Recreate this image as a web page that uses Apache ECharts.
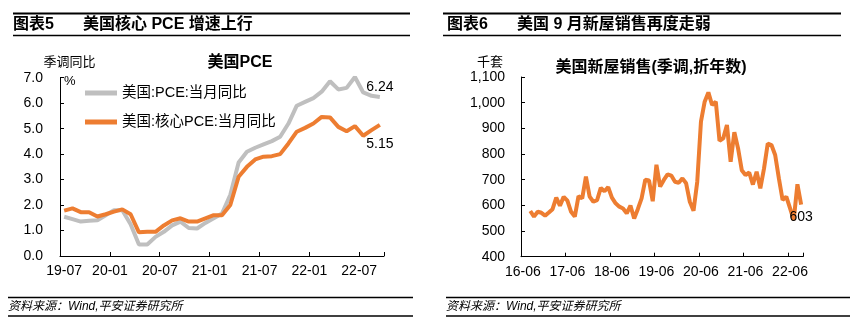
<!DOCTYPE html>
<html><head><meta charset="utf-8">
<script src="https://cdn.jsdelivr.net/npm/echarts@6/dist/echarts.min.js"></script>
<style>html,body{margin:0;padding:0;background:#fff}#c{width:861px;height:327px}</style>
</head><body><div id="c"></div>
<script>
// ---- Left chart: US PCE (YoY, %) ----
const pceMonths = ['19-07','19-08','19-09','19-10','19-11','19-12',
  '20-01','20-02','20-03','20-04','20-05','20-06','20-07','20-08','20-09','20-10','20-11','20-12',
  '21-01','21-02','21-03','21-04','21-05','21-06','21-07','21-08','21-09','21-10','21-11','21-12',
  '22-01','22-02','22-03','22-04','22-05','22-06','22-07','22-08','22-09'];
const pceHeadline = [1.54,1.45,1.35,1.38,1.40,1.60,1.80,1.80,1.25,0.45,0.45,0.75,0.95,1.20,1.35,1.10,1.08,1.30,
  1.48,1.67,2.40,3.67,4.09,4.25,4.38,4.51,4.68,5.20,5.90,6.05,6.20,6.45,6.86,6.54,6.60,7.03,6.42,6.29,6.24];
const pceCore = [1.78,1.87,1.72,1.72,1.55,1.64,1.74,1.83,1.64,0.93,0.95,0.95,1.20,1.40,1.48,1.35,1.35,1.48,
  1.60,1.60,2.00,3.11,3.50,3.79,3.90,3.92,4.00,4.42,4.88,5.03,5.20,5.46,5.44,5.07,4.90,5.10,4.72,4.94,5.15];
const pceNames = ['美国:PCE:当月同比','美国:核心PCE:当月同比'];
const pceYTicks = {min:0, max:7, interval:1};

// ---- Right chart: US new home sales (SAAR, thousand units) ----
const nhsMonths = ['16-06','16-07','16-08','16-09','16-10','16-11','16-12',
  '17-01','17-02','17-03','17-04','17-05','17-06','17-07','17-08','17-09','17-10','17-11','17-12',
  '18-01','18-02','18-03','18-04','18-05','18-06','18-07','18-08','18-09','18-10','18-11','18-12',
  '19-01','19-02','19-03','19-04','19-05','19-06','19-07','19-08','19-09','19-10','19-11','19-12',
  '20-01','20-02','20-03','20-04','20-05','20-06','20-07','20-08','20-09','20-10','20-11','20-12',
  '21-01','21-02','21-03','21-04','21-05','21-06','21-07','21-08','21-09','21-10','21-11','21-12',
  '22-01','22-02','22-03','22-04','22-05','22-06','22-07','22-08','22-09'];
const nhsSales = [null,null,578,556,575,571,560,
  572,585,630,599,633,618,575,556,636,627,712,634,
  614,620,668,655,671,630,608,595,588,569,599,549,
  586,627,700,697,616,758,673,699,721,716,692,688,
  705,686,614,579,692,926,1004,1040,991,1004,851,861,
  913,770,885,822,737,718,728,681,731,666,744,841,
  835,796,705,621,634,589,543,682,603];
const nhsName = '美国新屋销售(季调,折年数)';
const nhsYTicks = {min:400, max:1100, interval:100};

const FONT = "'Liberation Sans','Noto Sans CJK SC',sans-serif";
const GRAY = '#BFBFBF', ORANGE = '#ED7D31';

function withEndLabel(arr, pos, dist, fmt) {
  const last = arr.length - 1;
  return arr.map((v, i) => i === last ? {value: v, label: {show: true, position: pos, distance: dist,
    formatter: fmt, color: '#000', fontSize: 14, fontFamily: FONT}} : v);
}

const chart = echarts.init(document.getElementById('c'), null, {renderer: 'canvas'});

function xAxisCfg(grid, data, interval, shiftFirst) {
  const base = {fontSize: 14, color: '#000', fontFamily: FONT};
  return {type: 'category', gridIndex: grid, data: data, boundaryGap: true,
    axisLine: {lineStyle: {color: '#000', width: 1}},
    axisTick: {show: true, inside: true, length: 4, interval: interval, lineStyle: {color: '#000'}},
    axisLabel: {interval: interval, margin: 8, fontSize: 14, color: '#000', fontFamily: FONT,
      formatter: (v, i) => (shiftFirst && i !== 0) ? '{n|' + v + '}' : '{f|' + v + '}',
      rich: {f: Object.assign({}, base), n: Object.assign({padding: [0, 8, 0, 0]}, base)}},
    splitLine: {show: false}};
}
function yAxisCfg(grid, t, fmt, margin) {
  return {type: 'value', gridIndex: grid, min: t.min, max: t.max, interval: t.interval,
    axisLine: {show: true, lineStyle: {color: '#000', width: 1}},
    axisTick: {show: true, inside: true, length: 4, lineStyle: {color: '#000'}},
    axisLabel: {formatter: fmt, margin: margin, fontSize: 14, color: '#000', fontFamily: FONT},
    splitLine: {show: false}};
}

const txt = (x, y, text, size, opts) => Object.assign({type: 'text', x: x, y: y, silent: true,
  style: Object.assign({text: text, fill: '#000', fontSize: size, fontFamily: FONT,
    textAlign: 'left', textVerticalAlign: 'middle'}, (opts || {}))});
const hline = (x1, x2, y, w) => ({type: 'line', silent: true, shape: {x1: x1, y1: y, x2: x2, y2: y},
  style: {stroke: '#000', lineWidth: w}});

chart.setOption({
  animation: false,
  backgroundColor: '#fff',
  grid: [
    {left: 60, right: 477, top: 77.7, bottom: 71},
    {left: 521, right: 58, top: 77, bottom: 70.3}
  ],
  legend: {
    data: pceNames, left: 80, top: 80, orient: 'vertical', icon: 'rect',
    itemWidth: 32, itemHeight: 5, itemGap: 13, itemStyle: {borderWidth: 0},
    textStyle: {fontSize: 14.5, lineHeight: 16, color: '#000', fontFamily: FONT}
  },
  xAxis: [xAxisCfg(0, pceMonths, 5, true), xAxisCfg(1, nhsMonths, 11, false)],
  yAxis: [
    yAxisCfg(0, pceYTicks, v => v.toFixed(1), 17),
    yAxisCfg(1, nhsYTicks, v => v.toLocaleString('en-US'), 16)
  ],
  series: [
    {name: pceNames[0], type: 'line', xAxisIndex: 0, yAxisIndex: 0, color: GRAY,
      symbol: 'circle', symbolSize: 0, showSymbol: true,
      lineStyle: {width: 4, color: GRAY}, data: withEndLabel(pceHeadline, 'top', 3, p => p.value.toFixed(2))},
    {name: pceNames[1], type: 'line', xAxisIndex: 0, yAxisIndex: 0, color: ORANGE,
      symbol: 'circle', symbolSize: 0, showSymbol: true,
      lineStyle: {width: 4, color: ORANGE}, data: withEndLabel(pceCore, 'bottom', 12, p => p.value.toFixed(2))},
    {name: nhsName, type: 'line', xAxisIndex: 1, yAxisIndex: 1, color: ORANGE,
      symbol: 'circle', symbolSize: 0, showSymbol: true, connectNulls: false,
      lineStyle: {width: 4, color: ORANGE}, data: withEndLabel(nhsSales, 'bottom', 6, p => String(p.value))}
  ],
  graphic: [
    hline(13, 410, 13.5, 1.8), hline(13, 410, 35.5, 1.5),
    hline(443, 841, 13.5, 1.8), hline(443, 841, 35.5, 1.5),
    txt(13, 25, '图表5', 16, {fontWeight: 'bold'}),
    txt(83, 25, '美国核心 PCE 增速上行', 16, {fontWeight: 'bold'}),
    txt(447, 25, '图表6', 16, {fontWeight: 'bold'}),
    txt(517, 25, '美国 9 月新屋销售再度走弱', 16, {fontWeight: 'bold'}),
    txt(240, 63, '美国PCE', 16, {textAlign: 'center', fontWeight: 'bold'}),
    txt(651, 68, nhsName, 16, {textAlign: 'center', fontWeight: 'bold'}),
    txt(69.5, 62, '季调同比', 13, {textAlign: 'center'}),
    txt(64, 81, '%', 13),
    txt(490, 62, '千套', 13, {textAlign: 'center'}),
    hline(8, 413, 297.5, 1.5), hline(8, 413, 316, 1.5),
    hline(446, 850, 297.5, 1.5), hline(446, 850, 316, 1.5),
    txt(8, 307, '资料来源：Wind,平安证券研究所', 12, {fontStyle: 'italic'}),
    txt(446, 307, '资料来源：Wind,平安证券研究所', 12, {fontStyle: 'italic'})
  ]
});
</script>
</body></html>
